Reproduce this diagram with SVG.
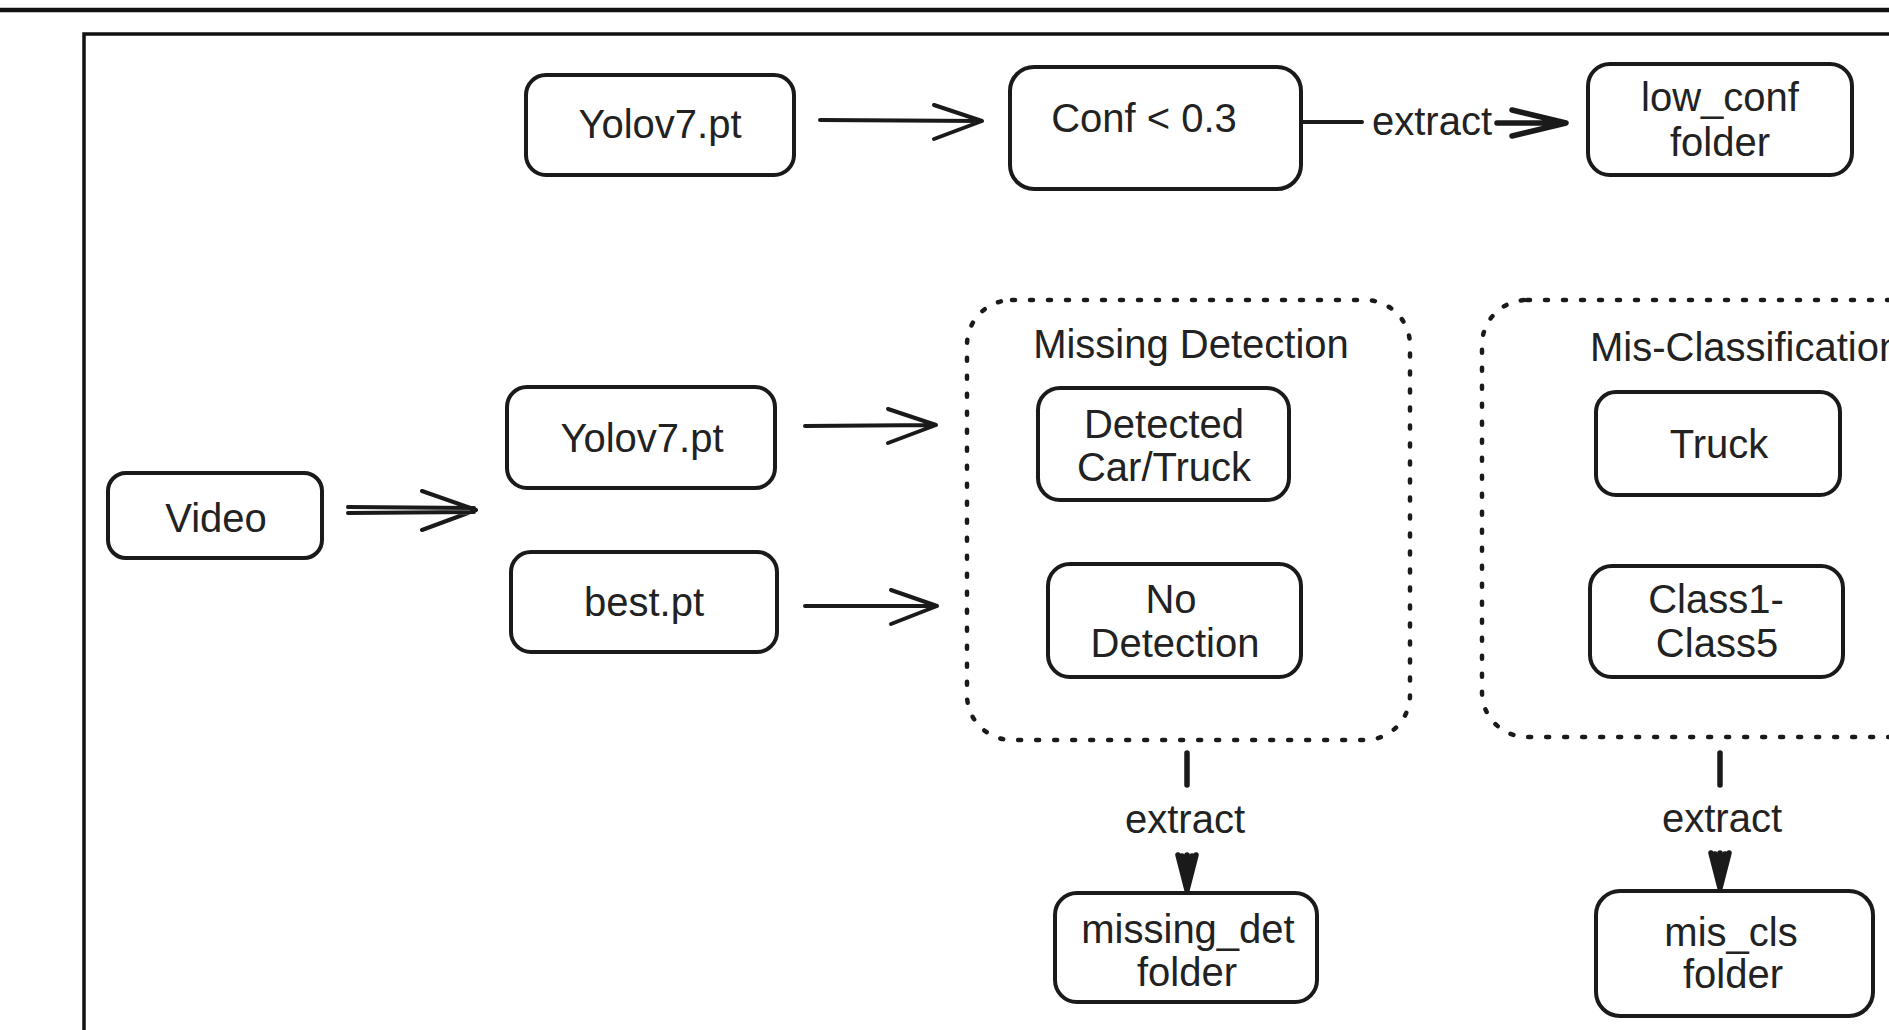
<svg xmlns="http://www.w3.org/2000/svg" width="1889" height="1030" viewBox="0 0 1889 1030">
<style>
.bg{fill:#ffffff}
.frame{fill:none;stroke:#111;stroke-width:3.5}
.node{fill:#ffffff;stroke:#1a1a1a;stroke-width:4}
.group{fill:none;stroke:#1a1a1a;stroke-width:4.5;stroke-dasharray:3 15;stroke-linecap:round}
.t{font-family:"Liberation Sans",Arial,sans-serif;font-size:40px;fill:#222;text-anchor:middle}
.ts{font-family:"Liberation Sans",Arial,sans-serif;font-size:40px;fill:#222;text-anchor:start}
.edge{fill:none;stroke:#1a1a1a;stroke-width:4;stroke-linecap:round;stroke-linejoin:round}
.thick{fill:none;stroke:#1a1a1a;stroke-width:5.5;stroke-linecap:round;stroke-linejoin:round}
</style>
<rect class="bg" x="0" y="0" width="1889" height="1030"/>
<line x1="0" y1="10" x2="1889" y2="10" stroke="#111" stroke-width="4.5"/>
<path class="frame" d="M84,1035 L84,34 L1895,34"/>

<g id="connectors">
  <path class="edge" d="M820,120 L982,121 M934,105 L982,121 L934,139"/>
  <path class="edge" d="M1303,122 L1362,122"/>
  <path class="thick" d="M1497,123 L1562,123 M1512,110 L1566,123 L1512,136"/>
  <path class="edge" d="M348,507 L474,508 M348,513 L474,512 M422,491 L476,510 L422,530"/>
  <path class="edge" d="M805,426 L934,425 M888,409 L936,425 L888,443"/>
  <path class="edge" d="M805,606 L935,606 M891,590 L937,606 L891,624"/>
  <path class="thick" d="M1187,753 L1187,785"/>
  <path class="thick" d="M1187,855 L1187,890 M1178,855 L1187,890 L1196,855 M1182,856 L1187,888 L1192,856"/>
  <path class="thick" d="M1720,753 L1720,785"/>
  <path class="thick" d="M1720,853 L1720,888 M1711,853 L1720,888 L1729,853 M1715,854 L1720,886 L1725,854"/>
  <text class="t" x="1432" y="135">extract</text>
  <text class="t" x="1185" y="833">extract</text>
  <text class="t" x="1722" y="832">extract</text>
</g>

<g id="node-yolov7-top">
  <rect class="node" x="526" y="75" width="268" height="100" rx="20"/>
  <text class="t" x="660" y="138">Yolov7.pt</text>
</g>
<g id="node-conf">
  <rect class="node" x="1010" y="67" width="291" height="122" rx="24"/>
  <text class="t" x="1144" y="132">Conf &lt; 0.3</text>
</g>
<g id="node-low-conf">
  <rect class="node" x="1588" y="64" width="264" height="111" rx="22"/>
  <text class="t" x="1720" y="111">low_conf</text>
  <text class="t" x="1720" y="156">folder</text>
</g>
<g id="node-video">
  <rect class="node" x="108" y="473" width="214" height="85" rx="18"/>
  <text class="t" x="216" y="532">Video</text>
</g>
<g id="node-yolov7-mid">
  <rect class="node" x="507" y="387" width="268" height="101" rx="20"/>
  <text class="t" x="642" y="452">Yolov7.pt</text>
</g>
<g id="node-best">
  <rect class="node" x="511" y="552" width="266" height="100" rx="20"/>
  <text class="t" x="644" y="616">best.pt</text>
</g>
<g id="group-missing">
  <rect class="group" x="967" y="300" width="443" height="440" rx="45"/>
  <text class="t" x="1191" y="358">Missing Detection</text>
</g>
<g id="node-detected">
  <rect class="node" x="1038" y="388" width="251" height="112" rx="22"/>
  <text class="t" x="1164" y="438">Detected</text>
  <text class="t" x="1164" y="481">Car/Truck</text>
</g>
<g id="node-no-detection">
  <rect class="node" x="1048" y="564" width="253" height="113" rx="22"/>
  <text class="t" x="1171" y="613">No</text>
  <text class="t" x="1175" y="657">Detection</text>
</g>
<g id="group-mis">
  <rect class="group" x="1482" y="300" width="460" height="437" rx="45"/>
  <text class="ts" x="1590" y="361">Mis-Classification</text>
</g>
<g id="node-truck">
  <rect class="node" x="1596" y="392" width="244" height="103" rx="20"/>
  <text class="t" x="1719" y="458">Truck</text>
</g>
<g id="node-class">
  <rect class="node" x="1590" y="566" width="253" height="111" rx="22"/>
  <text class="t" x="1716" y="613">Class1-</text>
  <text class="t" x="1717" y="657">Class5</text>
</g>
<g id="node-missing-det">
  <rect class="node" x="1055" y="893" width="262" height="109" rx="22"/>
  <text class="t" x="1188" y="943">missing_det</text>
  <text class="t" x="1187" y="986">folder</text>
</g>
<g id="node-mis-cls">
  <rect class="node" x="1596" y="891" width="277" height="125" rx="24"/>
  <text class="t" x="1731" y="946">mis_cls</text>
  <text class="t" x="1733" y="988">folder</text>
</g>
</svg>
